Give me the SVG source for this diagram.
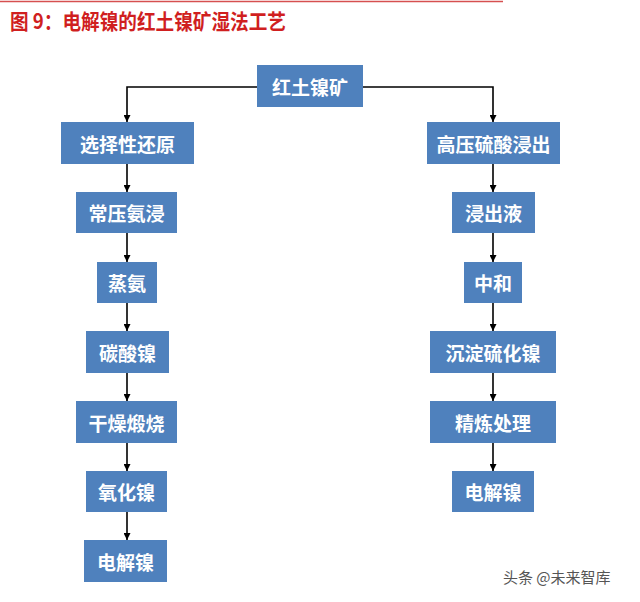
<svg xmlns="http://www.w3.org/2000/svg" width="640" height="602" viewBox="0 0 640 602">
<defs>
<style>
.box{fill:#4f81bd;}
.lbl{fill:#ffffff;font-family:"Noto Sans CJK SC","Noto Sans CJK JP",sans-serif;font-size:19px;font-weight:bold;text-anchor:middle;dominant-baseline:central;}
.ln{stroke:#000;stroke-width:1.6;fill:none;}
</style>
<marker id="ah" viewBox="0 0 10 10" refX="10" refY="5" markerWidth="7" markerHeight="7" markerUnits="userSpaceOnUse" orient="auto">
<path d="M0,0 L10,5 L0,10 Z" fill="#000"/>
</marker>
</defs>
<rect width="640" height="602" fill="#fff"/>
<line x1="0" y1="1.5" x2="503" y2="1.5" stroke="#d65050" stroke-width="1.5"/>
<text x="10" y="29" font-family="'Noto Sans CJK SC',sans-serif" font-size="21" font-weight="bold" fill="#d01f1f" textLength="276" lengthAdjust="spacingAndGlyphs">图 9：电解镍的红土镍矿湿法工艺</text>

<g id="connectors">
<path class="ln" d="M257,87 H127 V122" marker-end="url(#ah)"/>
<path class="ln" d="M363,87 H493 V122" marker-end="url(#ah)"/>
<path class="ln" d="M127,164 V192" marker-end="url(#ah)"/>
<path class="ln" d="M127,233 V262" marker-end="url(#ah)"/>
<path class="ln" d="M127,303 V331" marker-end="url(#ah)"/>
<path class="ln" d="M127,373 V401" marker-end="url(#ah)"/>
<path class="ln" d="M127,443 V471" marker-end="url(#ah)"/>
<path class="ln" d="M127,512 V540" marker-end="url(#ah)"/>
<path class="ln" d="M493,164 V192" marker-end="url(#ah)"/>
<path class="ln" d="M493,233 V262" marker-end="url(#ah)"/>
<path class="ln" d="M493,303 V331" marker-end="url(#ah)"/>
<path class="ln" d="M493,373 V401" marker-end="url(#ah)"/>
<path class="ln" d="M493,443 V471" marker-end="url(#ah)"/>
</g>

<g id="n_root"><rect class="box" x="257" y="65" width="106" height="42"/><text class="lbl" x="310" y="86">红土镍矿</text></g>
<g id="n_l1"><rect class="box" x="61" y="122" width="133" height="42"/><text class="lbl" x="127.5" y="143">选择性还原</text></g>
<g id="n_l2"><rect class="box" x="76" y="192" width="101" height="41"/><text class="lbl" x="126.5" y="212.5">常压氨浸</text></g>
<g id="n_l3"><rect class="box" x="97" y="262" width="60" height="41"/><text class="lbl" x="127" y="282.5">蒸氨</text></g>
<g id="n_l4"><rect class="box" x="86" y="331" width="83" height="42"/><text class="lbl" x="127.5" y="352">碳酸镍</text></g>
<g id="n_l5"><rect class="box" x="76" y="401" width="101" height="42"/><text class="lbl" x="126.5" y="422">干燥煅烧</text></g>
<g id="n_l6"><rect class="box" x="86" y="471" width="81" height="41"/><text class="lbl" x="126.5" y="491.5">氧化镍</text></g>
<g id="n_l7"><rect class="box" x="84" y="540" width="83" height="42"/><text class="lbl" x="125.5" y="561">电解镍</text></g>

<g id="n_r1"><rect class="box" x="427" y="122" width="133" height="42"/><text class="lbl" x="493.5" y="143">高压硫酸浸出</text></g>
<g id="n_r2"><rect class="box" x="452" y="192" width="83" height="41"/><text class="lbl" x="493.5" y="212.5">浸出液</text></g>
<g id="n_r3"><rect class="box" x="464" y="262" width="58" height="41"/><text class="lbl" x="493" y="282.5">中和</text></g>
<g id="n_r4"><rect class="box" x="430" y="331" width="126" height="42"/><text class="lbl" x="493" y="352">沉淀硫化镍</text></g>
<g id="n_r5"><rect class="box" x="430" y="401" width="126" height="42"/><text class="lbl" x="493" y="422">精炼处理</text></g>
<g id="n_r6"><rect class="box" x="452" y="471" width="82" height="41"/><text class="lbl" x="493" y="491.5">电解镍</text></g>

<text x="503" y="583" font-family="'Noto Sans CJK SC',sans-serif" font-size="15" fill="#555">头条 @未来智库</text>
</svg>
